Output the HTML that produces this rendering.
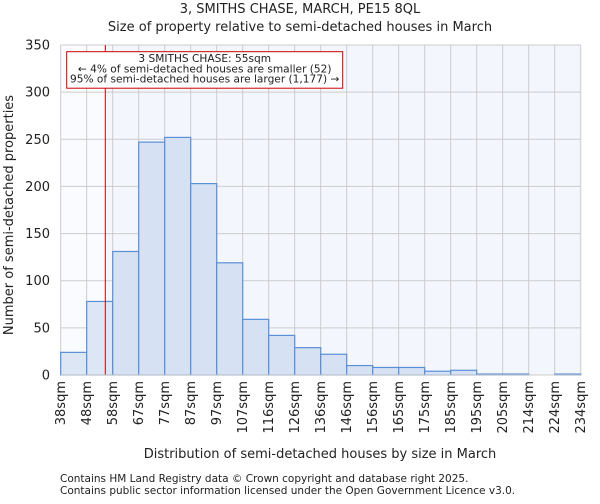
<!DOCTYPE html>
<html><head><meta charset="utf-8"><style>
body{margin:0;background:#fff;font-family:"DejaVu Sans","Liberation Sans",sans-serif;}
text{font-family:"DejaVu Sans","Liberation Sans",sans-serif;fill:#222;}
</style></head><body>
<svg id="chart" width="600" height="500" xmlns="http://www.w3.org/2000/svg">
<text x="300" y="13" font-size="13" text-anchor="middle">3, SMITHS CHASE, MARCH, PE15 8QL</text>
<text x="300" y="31" font-size="13" text-anchor="middle">Size of property relative to semi-detached houses in March</text>
<rect x="60.7" y="45" width="520" height="330" fill="#f3f6fd"/>
<rect x="60.7" y="45" width="44.6" height="330" fill="#fafbfe"/>
<g id="grid"></g><g id="bars"></g><g id="xt"></g><g id="yt"></g>
<line x1="105.3" x2="105.3" y1="45" y2="375" stroke="#cc0000" stroke-width="1"/>
<rect x="66.7" y="51.7" width="276" height="36.5" fill="#fff" stroke="#cc0000" stroke-width="1"/>
<text x="204.7" y="62" font-size="10.6" text-anchor="middle">3 SMITHS CHASE: 55sqm</text>
<text x="204.7" y="72.3" font-size="10.6" text-anchor="middle">← 4% of semi-detached houses are smaller (52)</text>
<text x="204.7" y="82.5" font-size="10.6" text-anchor="middle">95% of semi-detached houses are larger (1,177) →</text>
<line x1="60.7" x2="580.7" y1="375" y2="375" stroke="#ccc"/>
<text x="320" y="458" font-size="13" text-anchor="middle">Distribution of semi-detached houses by size in March</text>
<text transform="translate(13,215) rotate(-90)" font-size="13" text-anchor="middle">Number of semi-detached properties</text>
<text x="60" y="482" font-size="10.5">Contains HM Land Registry data © Crown copyright and database right 2025.</text>
<text x="60" y="494" font-size="10.5">Contains public sector information licensed under the Open Government Licence v3.0.</text>
</svg>
<script>
const categories=["38sqm","48sqm","58sqm","67sqm","77sqm","87sqm","97sqm","107sqm","116sqm","126sqm","136sqm","146sqm","156sqm","165sqm","175sqm","185sqm","195sqm","205sqm","214sqm","224sqm","234sqm"];
const counts=[24,78,131,247,252,203,119,59,42,29,22,10,8,8,4,5,1,1,0,1];
const yTicks=[0,50,100,150,200,250,300,350];
const NS="http://www.w3.org/2000/svg";
const x0=60.7,bw=26,yBase=375,yTop=45,yMax=350;
const xs=i=>x0+i*bw, ys=v=>yBase-(v/yMax)*(yBase-yTop);
function mk(t,a,p){const e=document.createElementNS(NS,t);for(const k in a)e.setAttribute(k,a[k]);p.appendChild(e);return e;}
const grid=document.getElementById('grid'),bars=document.getElementById('bars'),xt=document.getElementById('xt'),yt=document.getElementById('yt');
yTicks.forEach(v=>{
 const l=mk('line',{x1:x0,x2:x0+bw*counts.length,y1:ys(v),y2:ys(v),stroke:'#ccc'},grid);
 
 
 const t=mk('text',{x:50,y:ys(v)+4.5,'font-size':13,'text-anchor':'end'},yt);t.textContent=v;
 
 
});
categories.forEach((c,i)=>{
 const l=mk('line',{x1:xs(i),x2:xs(i),y1:yTop,y2:yBase,stroke:'#ccc'},grid);
 
 
 const x=xs(i);
 const t=mk('text',{transform:`translate(${x+4.5},381) rotate(-90)`,'font-size':13,'text-anchor':'end'},xt);t.textContent=c;
 
 
});
counts.forEach((v,i)=>{
 if(v<=0)return;
 const r=mk('rect',{x:xs(i),y:ys(v),width:bw,height:yBase-ys(v),fill:i<2?'#dde6f4':'#d6e1f3',stroke:'#5b8fd6','stroke-width':1.2},bars);
 
 
});
</script>
</body></html>
